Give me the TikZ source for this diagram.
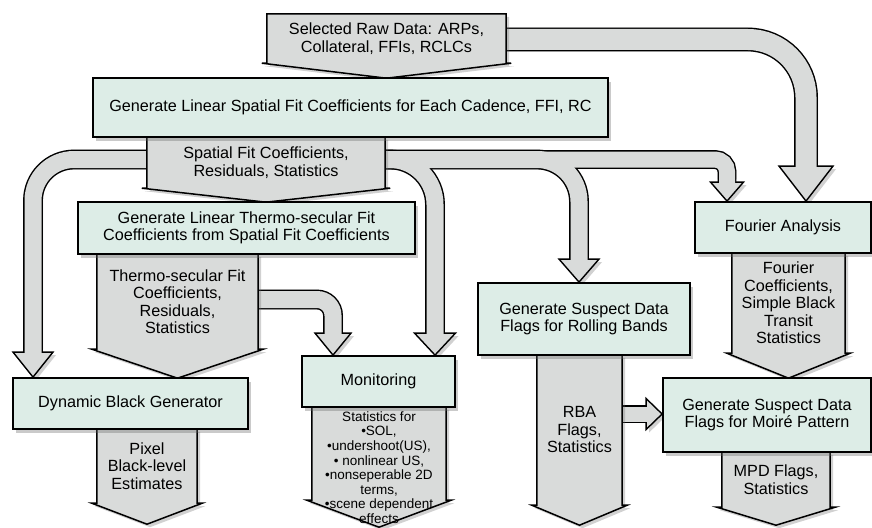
\documentclass[tikz,border=0pt]{standalone}
\usepackage{fontspec}
\setmainfont{Liberation Sans}
\usetikzlibrary{calc,shadows}

\definecolor{boxgreen}{RGB}{221,237,231}
\definecolor{datagray}{RGB}{217,219,218}
\newcommand{\mainsize}{\fontsize{16.2}{17.5}\selectfont}
\newcommand{\statsize}{\fontsize{13.5}{14.6}\selectfont}

\pgfdeclarelayer{flow}
\pgfdeclarelayer{datalayer}
\pgfsetlayers{flow,datalayer,main}

% data product: box with a pointed bottom
\newcommand{\datapent}[2]{%
\filldraw[datashape] (#1.north west) -- (#1.north east) -- (#1.south east) -- ++(5,0)
 -- ($(#1.south)+(0,#2)$) -- ($(#1.south west)+(-5,0)$) -- (#1.south west) -- cycle;}
% heads of the block arrows
\newcommand{\headdown}[3]{%
\coordinate (#1b) at ($(#1)+(0,-#3)$);
\filldraw[headstyle] (#1) -- ($(#1b)+(-#2,0)$) -- ($(#1b)+(#2,0)$) -- cycle;}
\newcommand{\headright}[3]{%
\coordinate (#1b) at ($(#1)+(-#3,0)$);
\filldraw[headstyle] (#1) -- ($(#1b)+(0,-#2)$) -- ($(#1b)+(0,#2)$) -- cycle;}

\begin{document}
\begin{tikzpicture}
[x=1pt,y=-1pt,%%%%%%%%%%%%%%%%%%%%%%%%%%%%%%
proc/.style={draw=black, line width=1.8pt, fill=boxgreen, align=center, inner sep=0pt, font=\mainsize,
  drop shadow={shadow xshift=3pt, shadow yshift=-3.5pt, fill=black!60, opacity=.35}},
data/.style={inner sep=0pt, align=center, font=\mainsize},
datashape/.style={fill=datagray, draw=black, line width=1.5pt, line join=miter,
  drop shadow={shadow xshift=3pt, shadow yshift=-3pt, fill=black!60, opacity=.3}},
headstyle/.style={fill=datagray, draw=black, line width=1.4pt, line join=miter,
  drop shadow={shadow xshift=3pt, shadow yshift=-3pt, fill=black!60, opacity=.3}},
]%%%%%%%%%%%%%%%%%%%%%%%%%%%%%%
\useasboundingbox (0,0) rectangle (872,527);

\node[proc, minimum width=515pt, minimum height=59pt] (lin) at (350.5,107.5) {Generate Linear Spatial Fit Coefficients for Each Cadence, FFI, RC};
\node[proc, minimum width=337pt, minimum height=52pt] (thermo) at (246.5,228) {Generate Linear Thermo-secular Fit\\Coefficients from Spatial Fit Coefficients};
\node[proc, minimum width=235pt, minimum height=51pt] (dyn) at (130.5,403.5) {Dynamic Black Generator};
\node[proc, minimum width=153pt, minimum height=51pt] (mon) at (378.5,381.5) {Monitoring};
\node[proc, minimum width=212pt, minimum height=72pt] (roll) at (584,319) {Generate Suspect Data\\Flags for Rolling Bands};
\node[proc, minimum width=176pt, minimum height=51pt] (four) at (783,227.5) {Fourier Analysis};
\node[proc, minimum width=208pt, minimum height=74pt] (moire) at (767,415) {Generate Suspect Data\\Flags for Moiré Pattern};

\node[data, minimum width=239pt, minimum height=49pt] (raw) at (386.5,38.5) {Selected Raw Data: ARPs,\\Collateral, FFIs, RCLCs};
\node[data, minimum width=238pt, minimum height=51pt] (spat) at (266,162.5) {Spatial Fit Coefficients,\\Residuals, Statistics};
\node[data, minimum width=161pt, minimum height=95pt] (tdata) at (177.5,301.5) {Thermo-secular Fit\\Coefficients,\\Residuals,\\Statistics};
\node[data, minimum width=100pt, minimum height=74pt] (pix) at (147,466) {Pixel\\Black-level\\Estimates};
\node[data, minimum width=134pt, minimum height=93pt] (mdata) at (379,453.5) {};
\node[data, font=\statsize] (mstat) at (379,467.5) {Statistics for\\•SOL,\\•undershoot(US),\\• nonlinear US,\\•nonseperable 2D\\terms,\\•scene dependent\\effects};
\node[data, minimum width=113pt, minimum height=100pt] (fdata) at (788.5,303) {Fourier\\Coefficients,\\Simple Black\\Transit\\Statistics};
\node[data, minimum width=85pt, minimum height=150pt] (rba) at (579.5,430) {RBA\\Flags,\\Statistics};
\node[data, minimum width=108pt, minimum height=55pt] (mpd) at (776,479.5) {MPD Flags,\\Statistics};

\begin{pgfonlayer}{datalayer}
\datapent{raw}{15}
\datapent{spat}{14}
\datapent{tdata}{29}
\datapent{pix}{21}
\datapent{mdata}{27}
\datapent{fdata}{25}
\datapent{rba}{20}
\datapent{mpd}{18}
\end{pgfonlayer}

\coordinate (raw2four) at ([xshift=23pt]four.north);
\coordinate (spat2four) at ([xshift=-56pt]four.north);
\coordinate (spat2roll) at ([xshift=-5pt]roll.north);
\coordinate (spat2mon) at ([xshift=56.5pt]mon.north);
\coordinate (thermo2mon) at ([xshift=-45.5pt]mon.north);
\coordinate (spat2dyn) at ([xshift=-97.5pt]dyn.north);
\coordinate (rba2moire) at ([yshift=1pt]moire.west);

\begin{pgfonlayer}{flow}
\headdown{raw2four}{27}{35}
\headdown{spat2four}{16.5}{19}
\headdown{spat2roll}{20}{23}
\headdown{spat2mon}{20.5}{22}
\headdown{thermo2mon}{18}{22}
\headdown{spat2dyn}{20}{25}
\headright{rba2moire}{15.5}{16}
% shadow, black rim, gray core
\foreach \rim/\col/\stub/\sh in {3/black!20/3/3, 2.8/black/0/0, 0/datagray/-1.5/0}{
\draw[\col, xshift=\sh pt, yshift=-\sh pt, shorten >=\stub pt, line width={21pt+\rim pt}, rounded corners=58pt] ([yshift=-1pt]raw.center) -| (raw2fourb);
\draw[\col, xshift=\sh pt, yshift=-\sh pt, shorten >=\stub pt, line width={16pt+\rim pt}, rounded corners=12pt] ([yshift=3pt]spat.center) -| (spat2fourb);
\draw[\col, xshift=\sh pt, yshift=-\sh pt, shorten >=\stub pt, line width={17pt+\rim pt}, rounded corners=42pt] ([yshift=3pt]spat.center) -| (spat2rollb);
\draw[\col, xshift=\sh pt, yshift=-\sh pt, shorten >=\stub pt, line width={17pt+\rim pt}, rounded corners=45pt] ([yshift=3pt]spat.center) -| (spat2monb);
\draw[\col, xshift=\sh pt, yshift=-\sh pt, shorten >=\stub pt, line width={17pt+\rim pt}, rounded corners=41pt] ([yshift=3pt]spat.center) -| (spat2dynb);
\draw[\col, xshift=\sh pt, yshift=-\sh pt, shorten >=\stub pt, line width={17pt+\rim pt}, rounded corners=16pt] ([yshift=2pt]tdata.center) -| (thermo2monb);
\draw[\col, xshift=\sh pt, yshift=-\sh pt, shorten >=\stub pt, line width={15pt+\rim pt}] (rba.center |- rba2moireb) -- (rba2moireb);
}
\end{pgfonlayer}
\end{tikzpicture}
\end{document}
